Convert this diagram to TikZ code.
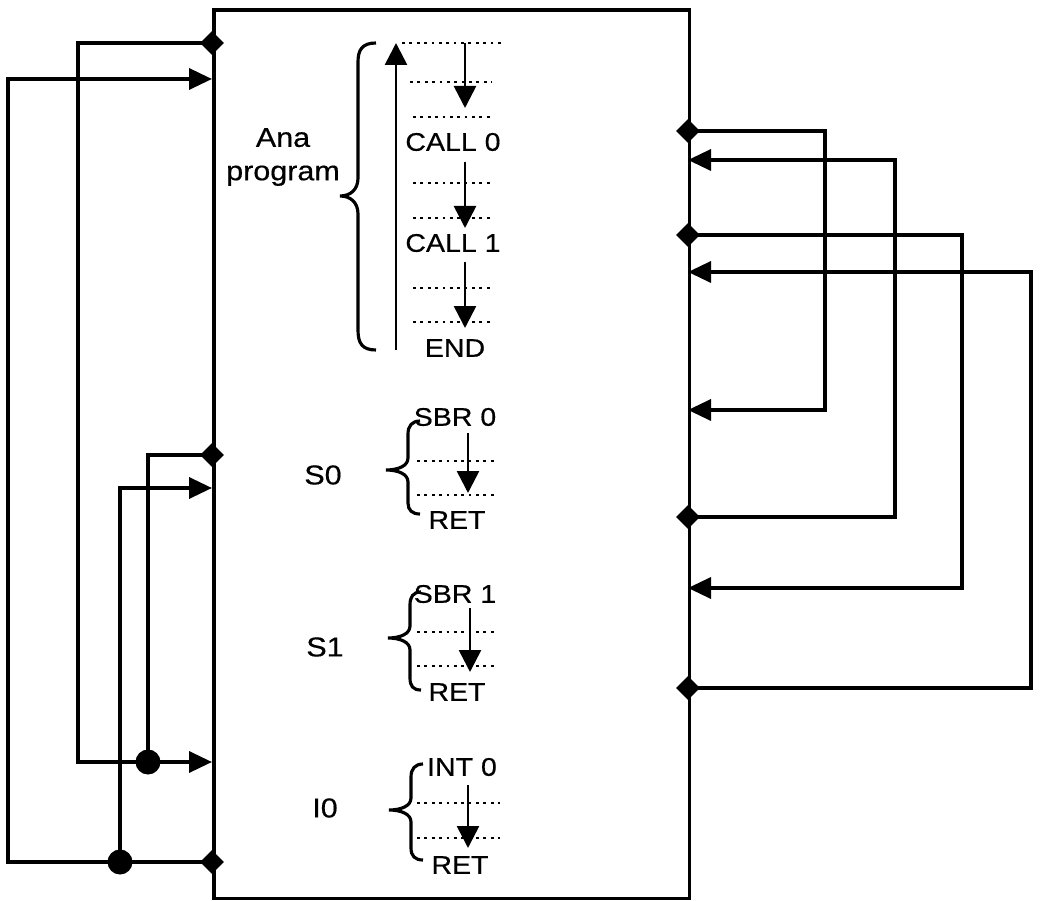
\documentclass[tikz,border=0pt]{standalone}
\usepackage{fontspec}
\setmainfont{Liberation Sans}[FakeStretch=1.12,FakeBold=0.5]
\usetikzlibrary{arrows.meta,shapes.geometric}
\begin{document}
\begin{tikzpicture}[x=0.02cm,y=-0.02cm,
  wire/.style={line width=2pt},
  inarrow/.style={wire,-{Triangle[length=0.46cm,width=0.42cm]}},
  flow/.style={line width=1.5pt,-{Triangle[length=0.44cm,width=0.44cm]}},
  dots/.style={line width=1.6pt,dash pattern=on 1.6pt off 2.6pt},
  junc/.style={diamond,fill,inner sep=0,minimum size=0.48cm},
  dotj/.style={circle,fill,inner sep=0,minimum size=0.5cm},
  lbl/.style={font=\fontsize{14.5}{17}\selectfont,inner sep=0},
  big/.style={font=\fontsize{15.5}{19}\selectfont,inner sep=0},
  brc/.style={line width=1.8pt}]
\useasboundingbox (0,0) rectangle (1040,901);
% main block
\node[draw,wire,inner sep=0,minimum width=9.52cm,minimum height=17.78cm,anchor=north west] (box) at (212,8) {};
% ports left
\coordinate (pL1) at (212,43);
\coordinate (pL2) at (212,79);
\coordinate (pL3) at (212,455);
\coordinate (pL4) at (212,488);
\coordinate (pL5) at (212,762);
\coordinate (pL6) at (212,862);
\coordinate (jA) at (148,762);
\coordinate (jB) at (120,862);
% ports right
\coordinate (pR1) at (688,131);
\coordinate (pR2) at (688,160);
\coordinate (pR3) at (688,235);
\coordinate (pR4) at (688,272);
\coordinate (pR5) at (688,410);
\coordinate (pR6) at (688,517);
\coordinate (pR7) at (688,588);
\coordinate (pR8) at (688,688);
% left wiring
\draw[inarrow] (pL1) -| (78,762) -- (pL5);
\draw[wire] (pL3) -| (jA);
\draw[inarrow] (pL6) -| (8,79) -- (pL2);
\draw[inarrow] (jB) |- (pL4);
% right wiring
\draw[inarrow] (pR1) -| (825,410) -- (pR5);
\draw[inarrow] (pR6) -| (895,160) -- (pR2);
\draw[inarrow] (pR3) -| (962,588) -- (pR7);
\draw[inarrow] (pR8) -| (1031,272) -- (pR4);
% junction marks
\foreach \p in {pL1,pL3,pL6,pR1,pR3,pR6,pR8} \node[junc] (d\p) at (\p) {};
\node[dotj] (dA) at (jA) {};
\node[dotj] (dB) at (jB) {};
% main program
\node[big,align=center] (ana) at (283,157) {Ana\\program};
\draw[brc] (376,43) .. controls (362,43) and (358,50) .. (358,62) -- (358,178) .. controls (358,190) and (350,196) .. (340,196) .. controls (350,196) and (358,202) .. (358,214) -- (358,330) .. controls (358,343) and (362,350) .. (376,350);
\coordinate (upS) at (396,350);
\coordinate (upE) at (396,43);
\draw[flow] (upS) -- (upE);
\draw[dots] (402,43) -- (503,43);
\draw[dots] (410,82) -- (492,82);
\draw[dots] (413,117) -- (492,117);
\node[lbl] (call0) at (453,142) {CALL 0};
\draw[dots] (413,183) -- (492,183);
\draw[dots] (413,218) -- (492,218);
\node[lbl] (call1) at (453,243) {CALL 1};
\draw[dots] (413,288) -- (492,288);
\draw[dots] (413,322) -- (492,322);
\node[lbl] (end) at (455,348) {END};
\coordinate (m1s) at (465,43);  \coordinate (m1e) at (465,108);
\coordinate (m2s) at (465,162); \coordinate (m2e) at (465,228);
\coordinate (m3s) at (465,262); \coordinate (m3e) at (465,328);
\draw[flow] (m1s) -- (m1e);
\draw[flow] (m2s) -- (m2e);
\draw[flow] (m3s) -- (m3e);
% S0
\node[big] (s0) at (323,475) {S0};
\draw[brc] (420,421) .. controls (412,421) and (408,426) .. (408,434) -- (408,458) .. controls (408,466) and (398,470) .. (386,470) .. controls (398,470) and (408,474) .. (408,482) -- (408,503) .. controls (408,510) and (412,514) .. (420,514);
\node[lbl] (sbr0) at (455,417) {SBR 0};
\draw[dots] (417,461) -- (497,461);
\draw[dots] (417,495) -- (497,495);
\node[lbl] (ret0) at (457,520) {RET};
\coordinate (a0s) at (468,433); \coordinate (a0e) at (468,493);
\draw[flow] (a0s) -- (a0e);
% S1
\node[big] (s1) at (325,647) {S1};
\draw[brc] (421,592) .. controls (413,592) and (410,597) .. (410,605) -- (410,626) .. controls (410,634) and (400,638) .. (388,638) .. controls (400,638) and (410,642) .. (410,650) -- (410,678) .. controls (410,686) and (413,690) .. (421,690);
\node[lbl] (sbr1) at (455,594) {SBR 1};
\draw[dots] (417,632) -- (497,632);
\draw[dots] (417,666) -- (497,666);
\node[lbl] (ret1) at (457,692) {RET};
\coordinate (a1s) at (470,608); \coordinate (a1e) at (470,672);
\draw[flow] (a1s) -- (a1e);
% I0
\node[big] (i0) at (325,808) {I0};
\draw[brc] (423,764) .. controls (415,764) and (411,769) .. (411,777) -- (411,798) .. controls (411,806) and (401,810) .. (389,810) .. controls (401,810) and (411,814) .. (411,822) -- (411,848) .. controls (411,856) and (415,860) .. (423,860);
\node[lbl] (int0) at (462,767) {INT 0};
\draw[dots] (417,803) -- (500,803);
\draw[dots] (417,838) -- (500,838);
\node[lbl] (ret2) at (460,865) {RET};
\coordinate (a2s) at (468,785); \coordinate (a2e) at (468,848);
\draw[flow] (a2s) -- (a2e);
\end{tikzpicture}
\end{document}
